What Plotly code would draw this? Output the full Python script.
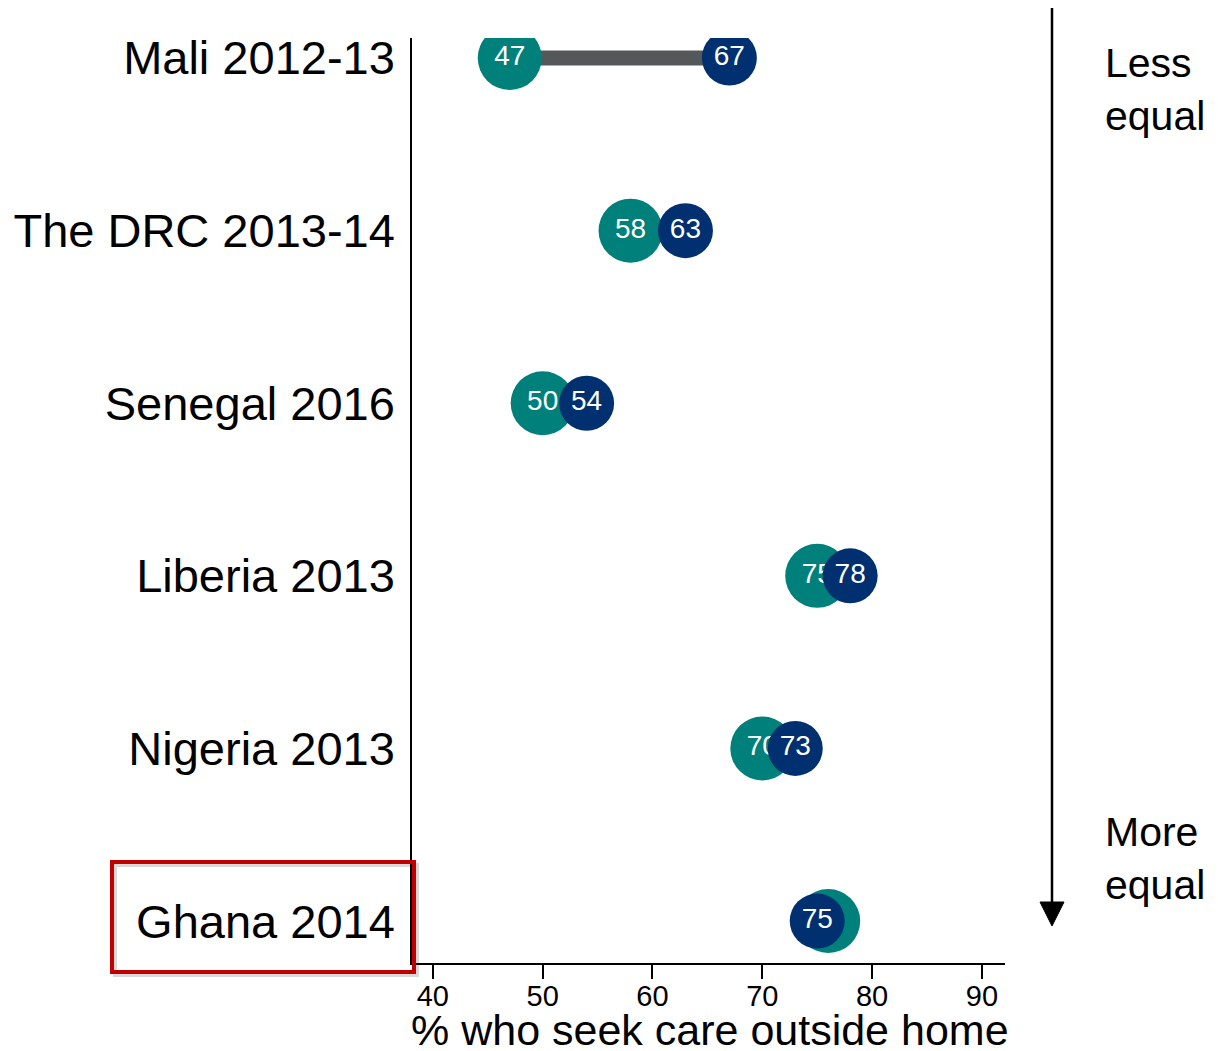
import plotly.graph_objects as go

countries = ["Mali 2012-13", "The DRC 2013-14", "Senegal 2016", "Liberia 2013", "Nigeria 2013", "Ghana 2014"]
teal_vals = [47, 58, 50, 75, 70, 76]
navy_vals = [67, 63, 54, 78, 73, 75]
x_ticks = [40, 50, 60, 70, 80, 90]
x_title = "% who seek care outside home"

TEAL = "#00807A"
NAVY = "#00306F"
GRAY = "#54585B"
FONT = "Liberation Sans, Arial, sans-serif"

n = len(countries)
ypos = [n - 1 - i for i in range(n)]

fig = go.Figure()

# connecting segments
seg_x, seg_y = [], []
for a, b, y in zip(teal_vals, navy_vals, ypos):
    seg_x += [a, b, None]
    seg_y += [y, y, None]
fig.add_trace(go.Scatter(x=seg_x, y=seg_y, mode="lines",
                         line=dict(color=GRAY, width=15), hoverinfo="skip", showlegend=False))

fig.add_trace(go.Scatter(x=teal_vals, y=ypos, mode="markers+text",
                         marker=dict(size=64, color=TEAL, line=dict(width=0)),
                         text=[str(v) for v in teal_vals], textposition="middle center",
                         textfont=dict(color="white", size=28, family=FONT),
                         showlegend=False))
fig.add_trace(go.Scatter(x=navy_vals, y=ypos, mode="markers+text",
                         marker=dict(size=55, color=NAVY, line=dict(width=0)),
                         text=[str(v) for v in navy_vals], textposition="middle center",
                         textfont=dict(color="white", size=28, family=FONT),
                         showlegend=False))

OFF = 8  # page body margin
W, H = 1210, 1043
L, T = 412 - OFF, 38 - OFF
R = W - (1005 - OFF)
B = H - (963 - OFF)
pw, ph = W - L - R, H - T - B

def px(xp):
    return (xp - OFF - L) / pw

def py(yp):
    return (H - B - (yp - OFF)) / ph

# red highlight box (with a faint shadow)
fig.add_shape(type="rect", xref="paper", yref="paper",
              x0=px(115), x1=px(417), y0=py(975), y1=py(865),
              line=dict(color="rgba(0,0,0,0.15)", width=4), layer="below")
fig.add_shape(type="rect", xref="paper", yref="paper",
              x0=px(112), x1=px(414), y0=py(972), y1=py(862),
              line=dict(color="#C00000", width=4))

# arrow on the right
fig.add_shape(type="line", xref="paper", yref="paper",
              x0=px(1052), x1=px(1052), y0=py(8), y1=py(905),
              line=dict(color="black", width=2.5))
fig.add_shape(type="path", xref="paper", yref="paper",
              path=f"M {px(1040)} {py(902)} L {px(1064)} {py(902)} L {px(1052)} {py(926)} Z",
              fillcolor="black", line=dict(color="black", width=1))

fig.add_annotation(xref="paper", yref="paper", x=px(1103), y=py(90),
                   text="Less<br>equal", showarrow=False, xanchor="left", yanchor="middle",
                   align="left", font=dict(size=41, family=FONT, color="black"))
fig.add_annotation(xref="paper", yref="paper", x=px(1103), y=py(858),
                   text="More<br>equal", showarrow=False, xanchor="left", yanchor="middle",
                   align="left", font=dict(size=41, family=FONT, color="black"))

# x-axis title
fig.add_annotation(xref="paper", yref="paper", x=px(710), y=py(1030),
                   text=x_title, showarrow=False, xanchor="center", yanchor="middle",
                   font=dict(size=43, family=FONT, color="black"))

fig.update_layout(
    width=W, height=H,
    margin=dict(l=L, r=R, t=T, b=B, autoexpand=False),
    paper_bgcolor="white", plot_bgcolor="white",
    font=dict(family=FONT, color="black"),
    xaxis=dict(range=[38.1, 92.1], tickvals=x_ticks, ticks="outside", ticklen=14,
               tickwidth=1.5, tickcolor="black", showline=True, linecolor="black",
               linewidth=1.5, showgrid=False, zeroline=False, automargin=False,
               ticklabelstandoff=-8,
               tickfont=dict(size=29, family=FONT, color="black")),
    yaxis=dict(range=[-0.243, 5.116], tickvals=ypos, ticktext=countries,
               showline=True, linecolor="black", linewidth=1.5, ticks="",
               showgrid=False, zeroline=False, ticklabelstandoff=6, automargin=False,
               tickfont=dict(size=47, family=FONT, color="black")),
)

fig.write_html("out.html")
